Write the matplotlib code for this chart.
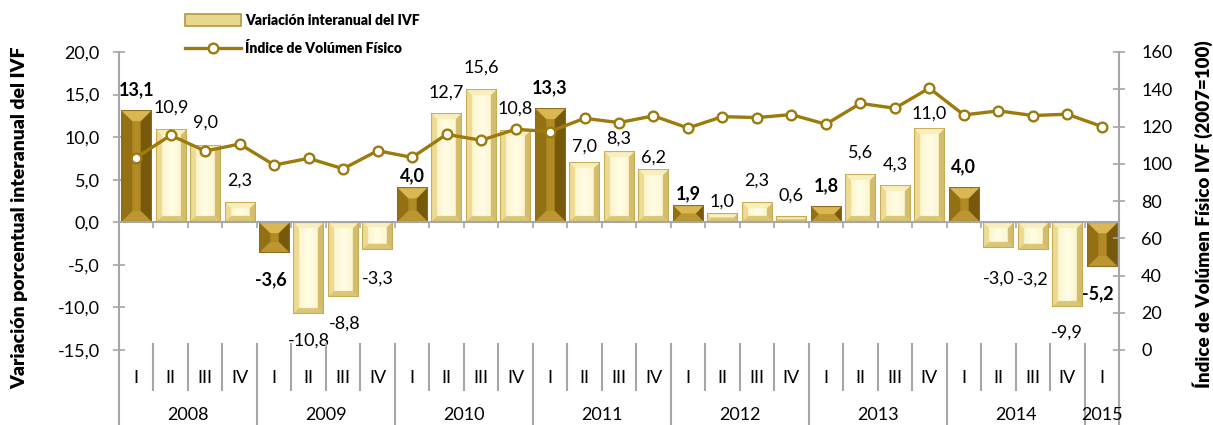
import numpy as np
import matplotlib
matplotlib.use('Agg')
import matplotlib.pyplot as plt
from matplotlib.transforms import blended_transform_factory
from matplotlib.lines import Line2D
from matplotlib.patches import Patch

plt.rcParams['font.family'] = ['Lato', 'DejaVu Sans']

# ---------------- data ----------------
years = ['2008', '2009', '2010', '2011', '2012', '2013', '2014', '2015']
quarters = ['I', 'II', 'III', 'IV'] * 7 + ['I']
variation = [13.1, 10.9, 9.0, 2.3, -3.6, -10.8, -8.8, -3.3,
             4.0, 12.7, 15.6, 10.8, 13.3, 7.0, 8.3, 6.2,
             1.9, 1.0, 2.3, 0.6, 1.8, 5.6, 4.3, 11.0,
             4.0, -3.0, -3.2, -9.9, -5.2]
ivf = [103.3, 115.3, 106.8, 110.6, 99.3, 102.9, 97.3, 107.0,
       103.4, 115.8, 112.6, 118.5, 117.3, 124.4, 122.1, 125.7,
       119.2, 125.3, 124.8, 126.4, 121.2, 132.4, 129.8, 140.6,
       126.2, 128.4, 125.9, 126.6, 120.0]

# label offsets (pixels) relative to bar end
label_offsets = [(0, 21), (0, 22), (0, 23), (0, 22), (-3, -27), (0, -26), (2, -26), (0, -28),
                 (0, 12), (0, 22), (0, 22), (0, 22), (0, 21), (0, 16), (0, 13), (0, 12),
                 (0, 12), (0, 12), (0, 22), (0, 22), (0, 21), (0, 22), (0, 21), (0, 15),
                 (0, 21), (0, -31), (0, -30), (0, -26), (-4, -27)]

W_PX, H_PX = 1213, 425
fig = plt.figure(figsize=(W_PX / 100, H_PX / 100), dpi=100)
L, R, T, B = 119, 1119, 52, 350
ax = fig.add_axes([L / W_PX, 1 - B / H_PX, (R - L) / W_PX, (B - T) / H_PX])
n = len(variation)
ax.set_xlim(-0.5, n - 0.5)
ax.set_ylim(-15, 20)
ax.set_autoscale_on(False)

grey = '#A6A6A6'
line_col = '#9C7A0C'

DARK = dict(face_edge=(0.62, 0.48, 0.11), face_center=(0.70, 0.55, 0.15),
            top=(0.86, 0.72, 0.33), bottom=(0.74, 0.59, 0.19),
            left=(0.58, 0.44, 0.08), right=(0.47, 0.35, 0.05),
            outline=(0.55, 0.42, 0.10), bevel=11)
LIGHT = dict(face_edge=(0.97, 0.93, 0.70), face_center=(1.0, 0.99, 0.90),
             top=(0.98, 0.94, 0.74), bottom=(0.86, 0.78, 0.46),
             left=(0.93, 0.86, 0.58), right=(0.83, 0.74, 0.42),
             outline=(0.78, 0.67, 0.32), bevel=6)


def bevel_img(w, h, st, s=4):
    Wn, Hn = max(int(round(w * s)), 2), max(int(round(h * s)), 2)
    jj, ii = np.meshgrid((np.arange(Wn) + 0.5) / s, (np.arange(Hn) + 0.5) / s)
    d = np.stack([ii, h - ii, jj, w - jj])
    side = np.argmin(d, axis=0)
    m = np.min(d, axis=0)
    b = min(st['bevel'], w / 2, h / 2)
    fe = np.array(st['face_edge']); fc = np.array(st['face_center'])
    t = 1 - np.abs(2 * jj / w - 1)
    t = np.clip(t, 0, 1) ** 0.7
    img = fe[None, None, :] * (1 - t[..., None]) + fc[None, None, :] * t[..., None]
    sides = np.array([st['top'], st['bottom'], st['left'], st['right']])
    sc = sides[side]
    mask = m < b
    img[mask] = sc[mask]
    img[m < 1.0] = np.array(st['outline'])
    return np.clip(img, 0, 1)


width = 0.88
for i, v in enumerate(variation):
    st = DARK if i % 4 == 0 else LIGHT
    x0, x1 = i - width / 2, i + width / 2
    y0, y1 = min(0, v), max(0, v)
    p0 = ax.transData.transform((x0, y0))
    p1 = ax.transData.transform((x1, y1))
    wpx, hpx = p1[0] - p0[0], p1[1] - p0[1]
    img = bevel_img(wpx, hpx, st)
    ax.imshow(img, extent=(x0, x1, y0, y1), origin='upper', aspect='auto',
              interpolation='antialiased', zorder=2)

ax.set_xlim(-0.5, n - 0.5)
ax.set_ylim(-15, 20)

# axes styling
ax.spines['top'].set_visible(False)
ax.spines['right'].set_visible(False)
ax.spines['left'].set_color(grey)
ax.spines['left'].set_linewidth(1.5)
ax.spines['bottom'].set_position(('data', 0))
ax.spines['bottom'].set_color(grey)
ax.spines['bottom'].set_linewidth(1.5)
ax.spines['bottom'].set_zorder(3)
ax.set_xticks(np.arange(-0.5, n, 1.0))
ax.set_xticklabels([])
ax.tick_params(axis='x', direction='out', length=4, width=1.2, color=grey)
yt = np.arange(-15, 20.1, 5)
ax.set_yticks(yt)
ax.set_yticklabels([f"{v:.1f}".replace('.', ',') for v in yt])
ax.tick_params(axis='y', direction='inout', length=8, width=1.2, color=grey,
               labelsize=13, pad=10)

ax2 = ax.twinx()
ax2.set_ylim(0, 160)
ax2.set_yticks(np.arange(0, 161, 20))
ax2.tick_params(axis='y', direction='inout', length=8, width=1.2, color=grey,
                labelsize=13, pad=12)
for s in ['top', 'left', 'bottom']:
    ax2.spines[s].set_visible(False)
ax2.spines['right'].set_color(grey)
ax2.spines['right'].set_linewidth(1.5)

xs = np.arange(n)
ax2.plot(xs, ivf, color=line_col, lw=2.4, marker='o', ms=7, mfc='white',
         mec=line_col, mew=1.7, zorder=5)

# data labels
for i, v in enumerate(variation):
    dx, dy = label_offsets[i]
    txt = f"{v:.1f}".replace('.', ',')
    ax2.annotate(txt, xy=(i, v), xycoords=ax.transData, xytext=(dx, dy),
                 textcoords='offset pixels', ha='center', va='center',
                 fontsize=13, fontweight='bold' if i % 4 == 0 else 'normal',
                 annotation_clip=False, zorder=6)

# category area below
tr = blended_transform_factory(ax.transData, fig.transFigure)
y_top_sep = 1 - 344 / H_PX
y_q_bot = 1 - 390 / H_PX
y_ax_bot = 1 - B / H_PX
for k in range(n - 1):
    xb = k + 0.5
    if (k + 1) % 4 == 0:
        fig.add_artist(Line2D([xb, xb], [y_top_sep, 0], transform=tr, color=grey, lw=1.5))
    else:
        fig.add_artist(Line2D([xb, xb], [y_top_sep, y_q_bot], transform=tr, color=grey, lw=1.5))
for xb in (-0.5, n - 0.5):
    fig.add_artist(Line2D([xb, xb], [y_ax_bot, 0], transform=tr, color=grey, lw=1.5))

for i, q in enumerate(quarters):
    fig.text(i, 1 - 378 / H_PX, q, transform=tr, ha='center', va='center', fontsize=13)
for k, y in enumerate(years):
    idx = [i for i in range(n) if i // 4 == k]
    xc = (idx[0] + idx[-1]) / 2
    fig.text(xc, 1 - 415 / H_PX, y, transform=tr, ha='center', va='center', fontsize=13)

# axis titles
fig.text(20 / W_PX, 1 - 218 / H_PX, 'Variación porcentual interanual del IVF', rotation=90,
         ha='center', va='center', fontsize=14, fontweight='heavy')
fig.text(1203 / W_PX, 1 - 214 / H_PX, 'Índice de Volúmen Físico IVF (2007=100)', rotation=90,
         ha='center', va='center', fontsize=13.5, fontweight='heavy')

# legend
handles = [Patch(facecolor='#E8D88E', edgecolor='#B39838', lw=1.2),
           Line2D([], [], color=line_col, lw=2.4, marker='o', ms=7, mfc='white',
                  mec=line_col, mew=1.7)]
fig.legend(handles, ['Variación interanual del IVF', 'Índice de Volúmen Físico'],
           loc='upper left', bbox_to_anchor=(185 / W_PX, 1 - 14 / H_PX), frameon=False,
           prop={'weight': 'heavy', 'size': 10}, handlelength=4.0, handleheight=0.9,
           handletextpad=0.3, labelspacing=1.0, borderpad=0, borderaxespad=0)

fig.savefig('out.png', dpi=100)
